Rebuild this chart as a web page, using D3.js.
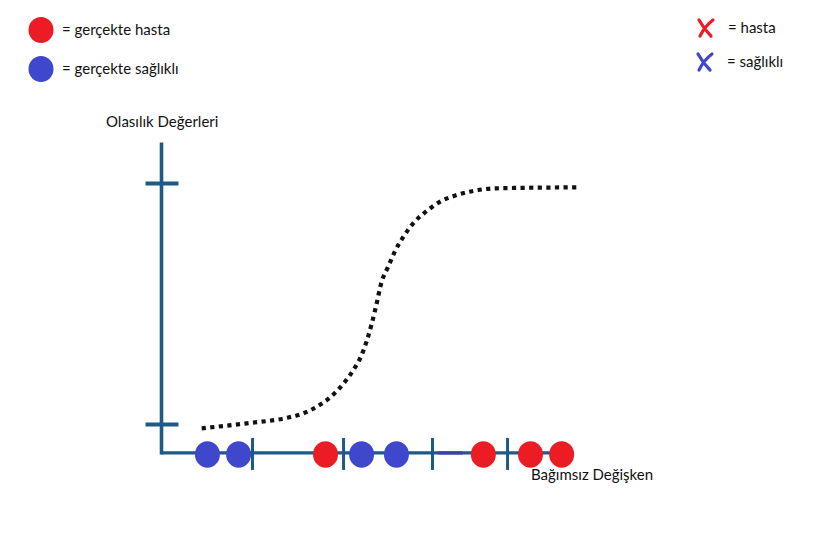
<!DOCTYPE html>
<html>
<head>
<meta charset="utf-8">
<script src="https://cdn.jsdelivr.net/npm/d3@7"></script>
<style>
  body { margin: 0; background: #fff; }
  svg text { font-family: Lato, "Open Sans", sans-serif; fill: #111; }
</style>
</head>
<body>
<svg width="835" height="552"></svg>
<script>
// curve (independent variable, probability)
var curveX = [0.98, 2.08, 3.01, 3.46, 3.82, 4.15, 4.43, 4.68, 4.88, 5.02, 5.13, 5.23, 5.37, 5.53, 5.70, 5.90, 6.14, 6.47, 6.79, 7.20, 7.60, 8.18, 10.13];
var curveP = [-0.016, 0.005, 0.026, 0.046, 0.077, 0.118, 0.168, 0.226, 0.288, 0.354, 0.420, 0.489, 0.593, 0.655, 0.721, 0.779, 0.835, 0.886, 0.924, 0.952, 0.969, 0.980, 0.984];

// observations along the axis
var obsX = [1.12, 1.88, 4.0, 4.88, 5.73, 7.85, 9.0, 9.76];
var obsClass = ["sağlıklı", "sağlıklı", "hasta", "sağlıklı", "sağlıklı", "hasta", "hasta", "hasta"];

var xTicks = [2.22, 4.44, 6.61, 8.44];
var yTicks = [0, 1];

var legendDots = ["gerçekte hasta", "gerçekte sağlıklı"];
var legendCross = ["hasta", "sağlıklı"];

var svg = d3.select("svg");
var axisColor = "#1d5a88";
var color = d3.scaleOrdinal().domain(["hasta", "sağlıklı"]).range(["#ec1c24", "#3f48cc"]);

var x = d3.scaleLinear().domain([0, 10]).range([161.5, 571.5]);
var y = d3.scaleLinear().domain([0, 1]).range([424.5, 183.5]);
var yBase = y(-0.118);

// axes
var g = svg.append("g");
g.append("line").attr("x1", x(0)).attr("x2", x(0)).attr("y1", y(1.17)).attr("y2", yBase + 1.5)
  .attr("stroke", axisColor).attr("stroke-width", 3.6);
g.append("line").attr("x1", x(0)).attr("x2", x(10)).attr("y1", yBase).attr("y2", yBase)
  .attr("stroke", axisColor).attr("stroke-width", 3.2);
g.append("line").attr("x1", x(6.74)).attr("x2", x(7.35)).attr("y1", yBase).attr("y2", yBase)
  .attr("stroke", "#3f3fa8").attr("stroke-width", 3.2);

g.selectAll(".ytick").data(yTicks).enter().append("line")
  .attr("class", "ytick")
  .attr("x1", x(0) - 16).attr("x2", x(0) + 17)
  .attr("y1", d => y(d)).attr("y2", d => y(d))
  .attr("stroke", axisColor).attr("stroke-width", 3.8);

g.selectAll(".xtick").data(xTicks).enter().append("line")
  .attr("class", "xtick")
  .attr("x1", d => x(d)).attr("x2", d => x(d))
  .attr("y1", yBase - 15).attr("y2", yBase + 17)
  .attr("stroke", axisColor).attr("stroke-width", 3);

// dotted logistic curve
var line = d3.line().curve(d3.curveMonotoneX)
  .x((d, i) => x(curveX[i])).y(d => y(d));
svg.append("path").datum(curveP)
  .attr("d", line)
  .attr("fill", "none")
  .attr("stroke", "#111")
  .attr("stroke-width", 4.2)
  .attr("stroke-dasharray", "4.2,4.4");

// observations
svg.selectAll(".obs").data(obsX).enter().append("ellipse")
  .attr("class", "obs")
  .attr("cx", d => x(d)).attr("cy", yBase + 1.5)
  .attr("rx", 12.5).attr("ry", 13.2)
  .attr("fill", (d, i) => color(obsClass[i]));

// axis labels
svg.append("text").attr("x", 106).attr("y", 127).attr("font-size", 15).text("Olasılık Değerleri");
svg.append("text").attr("x", 531).attr("y", 480).attr("font-size", 15).text("Bağımsız Değişken");

// legend with dots
var leg = svg.selectAll(".leg").data(legendDots).enter().append("g")
  .attr("class", "leg")
  .attr("transform", (d, i) => "translate(41," + (30 + i * 39) + ")");
leg.append("ellipse").attr("rx", 12.5).attr("ry", 13)
  .attr("fill", (d, i) => color(["hasta", "sağlıklı"][i]));
leg.append("text").attr("x", 21).attr("y", 5).attr("font-size", 15).text(d => "= " + d);

// legend with crosses
var cross = svg.selectAll(".cross").data(legendCross).enter().append("g")
  .attr("class", "cross")
  .attr("transform", (d, i) => "translate(" + (706 - i) + "," + (28 + i * 34) + ")");
cross.append("path")
  .attr("d", "M-7,-8 Q-2,1 5,8 M7,-8 Q-1,-2 -6,8")
  .attr("fill", "none")
  .attr("stroke", d => color(d))
  .attr("stroke-width", 3.2)
  .attr("stroke-linecap", "round");
cross.append("text").attr("x", 22).attr("y", 5).attr("font-size", 15).text(d => "= " + d);
</script>
</body>
</html>
